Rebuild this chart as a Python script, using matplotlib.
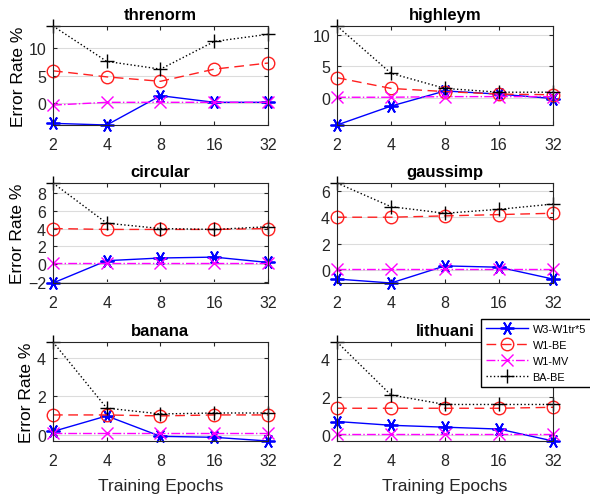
import matplotlib
matplotlib.use("Agg")
import matplotlib.pyplot as plt
from matplotlib.ticker import FixedLocator, NullLocator

plt.rcParams['font.family'] = ['Liberation Sans', 'DejaVu Sans']

epochs = [2, 4, 8, 16, 32]
epoch_labels = ['2', '4', '8', '16', '32']
series_names = ['W3-W1tr*5', 'W1-BE', 'W1-MV', 'BA-BE']

threnorm = [
    [-3.6, -3.9, 1.4, 0.2, 0.2],
    [5.9, 4.8, 4.0, 6.2, 7.3],
    [-0.3, 0.2, 0.2, 0.2, 0.2],
    [14.0, 7.6, 6.2, 11.2, 12.5],
]
highleym = [
    [-4.3, -1.3, 1.1, 0.6, -0.1],
    [3.2, 1.5, 1.0, 0.6, 0.5],
    [0.1, 0.1, 0.2, 0.2, 0.2],
    [11.4, 3.9, 1.5, 0.9, 0.9],
]
circular = [
    [-2.1, 0.4, 0.7, 0.8, 0.2],
    [4.0, 3.9, 3.9, 3.9, 4.0],
    [0.1, 0.1, 0.1, 0.1, 0.1],
    [9.1, 4.6, 4.0, 3.9, 4.2],
]
gaussimp = [
    [-0.7, -1.0, 0.3, 0.2, -0.7],
    [4.0, 4.0, 4.1, 4.2, 4.3],
    [0.1, 0.1, 0.1, 0.1, 0.1],
    [6.6, 4.8, 4.3, 4.6, 5.0],
]
banana = [
    [0.2, 1.0, -0.05, -0.1, -0.29],
    [1.05, 1.05, 1.0, 1.05, 1.05],
    [0.1, 0.1, 0.1, 0.1, 0.1],
    [4.8, 1.4, 1.1, 1.15, 1.15],
]
lithuani = [
    [0.7, 0.5, 0.4, 0.3, -0.33],
    [1.4, 1.4, 1.4, 1.4, 1.45],
    [0.05, 0.05, 0.05, 0.05, 0.05],
    [4.9, 2.1, 1.6, 1.6, 1.6],
]

panels = [
    ('threnorm', threnorm, [0, 5, 10]),
    ('highleym', highleym, [0, 5, 10]),
    ('circular', circular, [-2, 0, 2, 4, 6, 8]),
    ('gaussimp', gaussimp, [0, 2, 4, 6]),
    ('banana', banana, [0, 2, 4]),
    ('lithuani', lithuani, [0, 2, 4]),
]

styles = [
    dict(color='#0000ff', linestyle='-', marker=(6, 2, 90), markersize=10, mew=1.3),
    dict(color='#ff2020', linestyle=(0, (7, 4)), marker='o', markersize=9, mfc='none'),
    dict(color='#ff00ff', linestyle='-.', marker='x', markersize=8),
    dict(color='black', linestyle=':', marker='+', markersize=10),
]

W, H = 590, 502
fig = plt.figure(figsize=(W / 100, H / 100), dpi=100)

col_x = [(53, 268), (337, 553)]
row_y = [(27, 126), (184, 284), (343, 442)]

for i, (name, data, yticks) in enumerate(panels):
    r, c = divmod(i, 2)
    x0, x1 = col_x[c]
    y0, y1 = row_y[r]
    ax = fig.add_axes([x0 / W, 1 - y1 / H, (x1 - x0) / W, (y1 - y0) / H])
    ax.set_xscale('log', base=2)
    lines = []
    for vals, st in zip(data, styles):
        ln, = ax.plot(epochs, vals, linewidth=1.0, clip_on=False, **st)
        lines.append(ln)
    lo = min(min(v) for v in data)
    hi = max(max(v) for v in data)
    ax.set_xlim(2, 32)
    ax.set_ylim(lo, hi)
    ax.xaxis.set_major_locator(FixedLocator(epochs))
    ax.xaxis.set_minor_locator(NullLocator())
    ax.set_xticklabels(epoch_labels)
    ax.set_yticks(yticks)
    ax.yaxis.grid(True, color='#dcdcdc', linewidth=0.8)
    ax.set_axisbelow(True)
    ax.tick_params(direction='in', length=3, labelsize=11.5, colors='#262626',
                   top=True, right=True)
    ax.tick_params(axis='x', pad=9)
    ax.tick_params(axis='y', pad=5)
    for s in ax.spines.values():
        s.set_color('#262626')
        s.set_linewidth(0.8)
    ax.set_title(name, fontsize=12, fontweight='bold', pad=5)
    if c == 0:
        ax.set_ylabel('Error Rate %', fontsize=12.5, labelpad=2)
    if r == 2:
        ax.set_xlabel('Training Epochs', fontsize=12.5, color='#262626', labelpad=7)

# legend sits at the top of the bottom-right panel, partly outside it
fig.legend(lines, series_names, loc='upper left',
           bbox_to_anchor=(481 / W, 1 - 320 / H), fontsize=7.8,
           frameon=True, fancybox=False, edgecolor='black', framealpha=1,
           handlelength=3.9, borderpad=0.45, labelspacing=0.55, handletextpad=0.4,
           borderaxespad=0)

fig.savefig('out.png', dpi=100)
